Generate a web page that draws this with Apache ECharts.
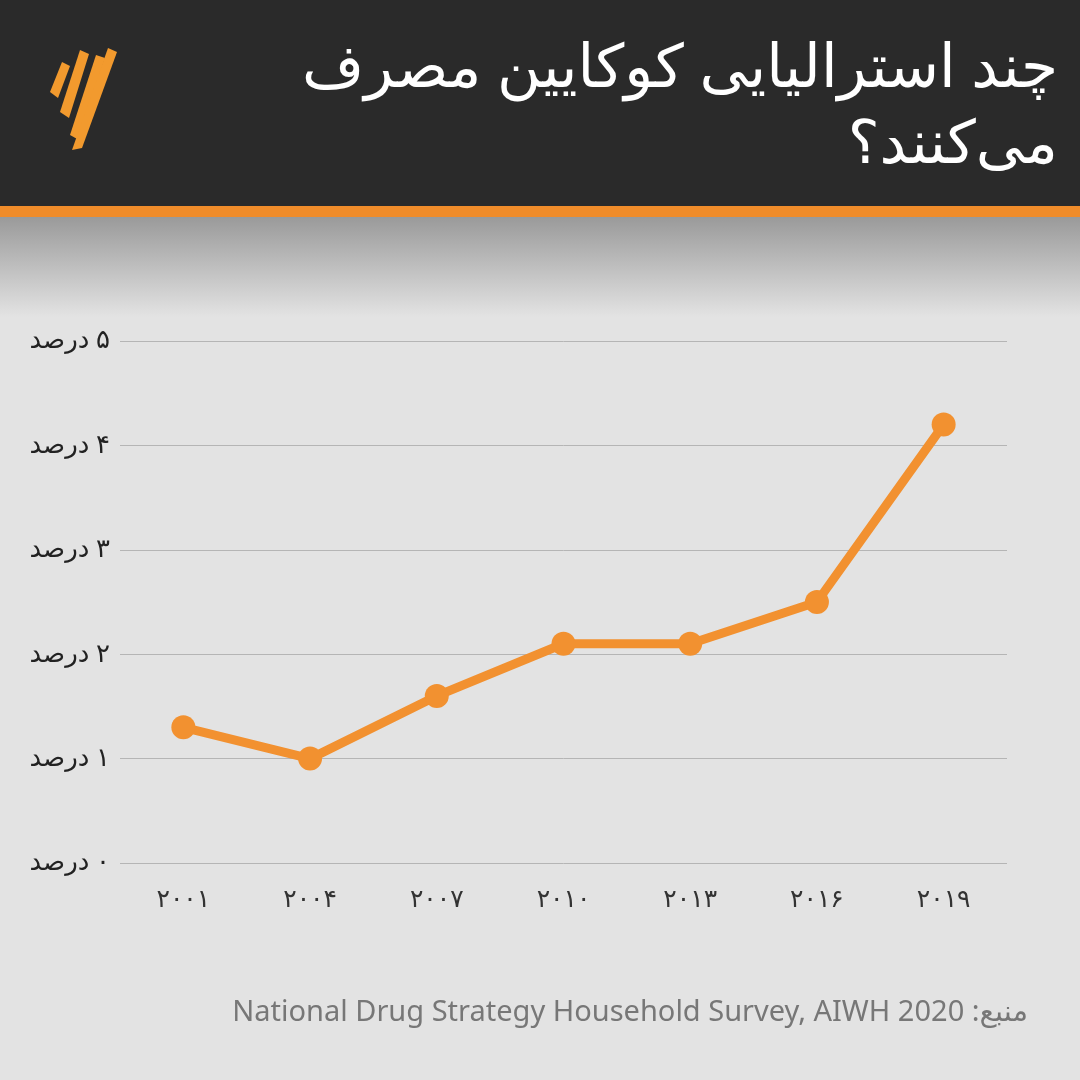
<!DOCTYPE html>
<html>
<head>
<meta charset="utf-8">
<script src="https://cdn.jsdelivr.net/npm/echarts@6/dist/echarts.min.js"></script>
<style>
html,body{margin:0;padding:0;background:#e3e3e3}
#chart{width:1080px;height:1080px}
</style>
</head>
<body>
<div id="chart"></div>
<script>
var years=['۲۰۰۱','۲۰۰۴','۲۰۰۷','۲۰۱۰','۲۰۱۳','۲۰۱۶','۲۰۱۹'];
var values=[1.3,1.0,1.6,2.1,2.1,2.5,4.2];
var yTicks=['۰','۱','۲','۳','۴','۵'];
var font='"Noto Sans", "DejaVu Sans", sans-serif';

var myChart=echarts.init(document.getElementById('chart'));
var option={
	backgroundColor:'#e3e3e3',
	graphic:[
		{type:'rect',shape:{x:0,y:217,width:1080,height:100},
			style:{fill:new echarts.graphic.LinearGradient(0,0,0,1,[{offset:0,color:'#9a9a9a'},{offset:1,color:'#e3e3e3'}])}},
		{type:'rect',shape:{x:0,y:0,width:1080,height:206},style:{fill:'#2a2a2a'}},
		{type:'rect',shape:{x:0,y:206,width:1080,height:11},style:{fill:'#f08c2a'}},
		// logo
		{type:'polygon',shape:{points:[[50,92],[62,62],[70,66],[58,98]]},style:{fill:'#f29a2e'}},
		{type:'polygon',shape:{points:[[60,112],[80,50],[89,54],[69,118]]},style:{fill:'#f29a2e'}},
		{type:'polygon',shape:{points:[[70,135],[96,55],[105,58],[79,140]]},style:{fill:'#f29a2e'}},
		{type:'polygon',shape:{points:[[72,150],[108,48],[117,52],[82,148]]},style:{fill:'#f29a2e'}},
		{type:'text',right:22,top:32,style:{text:'چند استرالیایی کوکایین مصرف\nمی‌کنند؟',fill:'#fff',font:'60px '+font,textAlign:'right',lineHeight:76}},
		{type:'text',right:52,top:998,style:{text:'National Drug Strategy Household Survey, AIWH 2020 :منبع',fill:'#777',font:'29px '+font,textAlign:'right'}}
	],
	grid:{left:120,right:73,top:341,bottom:217},
	xAxis:{
		type:'category',data:years,
		axisLine:{show:false},axisTick:{show:false},
		axisLabel:{color:'#333',fontSize:25,margin:24,fontFamily:font}
	},
	yAxis:{
		type:'value',min:0,max:5,interval:1,
		axisLine:{show:false},axisTick:{show:false},
		splitLine:{lineStyle:{color:'#b5b5b5',width:1}},
		axisLabel:{color:'#333',fontSize:26,margin:10,fontFamily:font,
			formatter:function(v){return '{a|درصد}{a| }{a|'+yTicks[v]+'}';},
			rich:{a:{color:'#222',fontSize:26,fontFamily:font}}}
	},
	series:[{
		type:'line',data:values,
		symbol:'circle',symbolSize:24,
		lineStyle:{color:'#f29130',width:9},
		itemStyle:{color:'#f29130'}
	}]
};
myChart.setOption(option);
window.addEventListener("resize",function(){myChart.resize();});
</script>
</body>
</html>
